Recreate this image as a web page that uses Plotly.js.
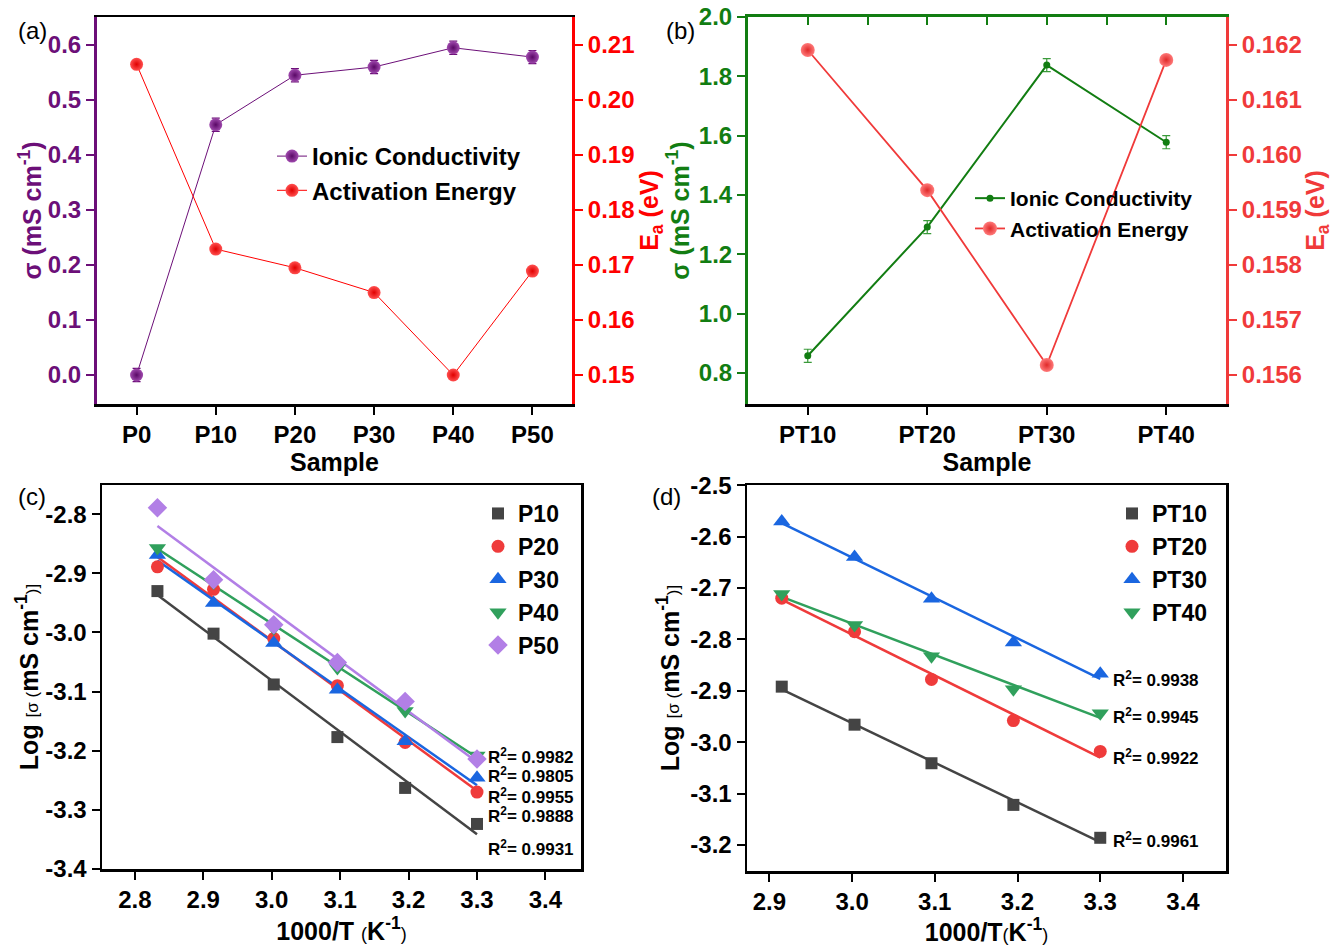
<!DOCTYPE html>
<html><head><meta charset="utf-8">
<script src="https://cdn.plot.ly/plotly-3.0.1.min.js"></script>
<style>html,body{margin:0;padding:0;background:#fff}#chart{width:1333px;height:946px}</style>
</head><body><div id="chart"></div>
<script>
// ---------- data: panel (a) ----------
const samplesA = ['P0','P10','P20','P30','P40','P50'];
const sigmaA = [0.000, 0.455, 0.545, 0.560, 0.595, 0.578];
const sigmaErrA = [0.012, 0.012, 0.012, 0.012, 0.012, 0.012];
const eaA = [0.2065, 0.1729, 0.1695, 0.1650, 0.1500, 0.1689];
const aLeftTicks = [0, 0.1, 0.2, 0.3, 0.4, 0.5, 0.6];
const aLeftText = ['0.0','0.1','0.2','0.3','0.4','0.5','0.6'];
const aRightTicks = [0.15, 0.16, 0.17, 0.18, 0.19, 0.20, 0.21];
const aRightText = ['0.15','0.16','0.17','0.18','0.19','0.20','0.21'];
// ---------- data: panel (b) ----------
const samplesB = ['PT10','PT20','PT30','PT40'];
const sigmaB = [0.858, 1.292, 1.838, 1.578];
const sigmaErrB = [0.022, 0.022, 0.022, 0.022];
const eaB = [0.16191, 0.15936, 0.15618, 0.16173];
const bLeftTicks = [0.8, 1.0, 1.2, 1.4, 1.6, 1.8, 2.0];
const bLeftText = ['0.8','1.0','1.2','1.4','1.6','1.8','2.0'];
const bRightTicks = [0.156, 0.157, 0.158, 0.159, 0.160, 0.161, 0.162];
const bRightText = ['0.156','0.157','0.158','0.159','0.160','0.161','0.162'];
// ---------- data: panel (c) ----------
const invTc = [2.833, 2.915, 3.003, 3.096, 3.195, 3.300];
const logP10 = [-2.930, -3.002, -3.088, -3.177, -3.263, -3.324];
const logP20 = [-2.889, -2.927, -3.010, -3.090, -3.186, -3.270];
const logP30 = [-2.869, -2.950, -3.018, -3.097, -3.184, -3.246];
const logP40 = [-2.857, -2.916, -2.993, -3.060, -3.133, -3.208];
const logP50 = [-2.789, -2.911, -2.987, -3.051, -3.117, -3.214];
const seriesC = ['P10','P20','P30','P40','P50'];
const r2C = ['0.9982','0.9805','0.9955','0.9888','0.9931'];
const cXTicks = [2.8, 2.9, 3.0, 3.1, 3.2, 3.3, 3.4];
const cXText = ['2.8','2.9','3.0','3.1','3.2','3.3','3.4'];
const cYTicks = [-2.8, -2.9, -3.0, -3.1, -3.2, -3.3, -3.4];
const cYText = ['-2.8','-2.9','-3.0','-3.1','-3.2','-3.3','-3.4'];
// ---------- data: panel (d) ----------
const invTd = [2.915, 3.003, 3.096, 3.195, 3.300];
const logPT10 = [-2.892, -2.966, -3.041, -3.122, -3.186];
const logPT20 = [-2.720, -2.785, -2.878, -2.958, -3.018];
const logPT30 = [-2.571, -2.640, -2.721, -2.806, -2.867];
const logPT40 = [-2.712, -2.772, -2.833, -2.897, -2.944];
const seriesD = ['PT10','PT20','PT30','PT40'];
const r2D = ['0.9938','0.9945','0.9922','0.9961'];
const dXTicks = [2.9, 3.0, 3.1, 3.2, 3.3, 3.4];
const dXText = ['2.9','3.0','3.1','3.2','3.3','3.4'];
const dYTicks = [-2.5, -2.6, -2.7, -2.8, -2.9, -3.0, -3.1, -3.2];
const dYText = ['-2.5','-2.6','-2.7','-2.8','-2.9','-3.0','-3.1','-3.2'];

// ---------- helpers ----------
const W = 1333, H = 946;
const px = v => v / W, py = v => 1 - v / H;
const FONT = 'Liberation Sans, Arial, Helvetica, sans-serif';
function fit(x, y) {
  const n = x.length;
  const mx = x.reduce((a, b) => a + b, 0) / n, my = y.reduce((a, b) => a + b, 0) / n;
  let sxy = 0, sxx = 0;
  for (let i = 0; i < n; i++) { sxy += (x[i] - mx) * (y[i] - my); sxx += (x[i] - mx) ** 2; }
  const s = sxy / sxx, b = my - s * mx;
  const x0 = Math.min(...x), x1 = Math.max(...x);
  return { x: [x0, x1], y: [b + s * x0, b + s * x1] };
}
function ax(o) {
  return Object.assign({
    showgrid: false, zeroline: false, showline: true, linewidth: 2.5, linecolor: '#000',
    ticks: 'outside', ticklen: 8, tickwidth: 2, tickcolor: '#000', fixedrange: true,
    tickfont: { family: FONT, size: 24, weight: 'bold', color: '#000' }
  }, o);
}
function ttl(text, color, standoff) {
  return { text: text, standoff: standoff, font: { family: FONT, size: 25, weight: 'bold', color: color } };
}

const PURPLE = '#6c0f78', RED_A = '#ff0000', GREEN = '#127d12', RED_B = '#f03a3a';
const cColors = ['#444444', '#ef3b3b', '#1a66e0', '#30a05c', '#b27fe6'];
const cSymbols = ['square', 'circle', 'triangle-up', 'triangle-down', 'diamond'];
const cSizes = [12, 13, 15, 15, 15];

const traces = [];
// (a)
traces.push({
  x: samplesA, y: sigmaA, xaxis: 'x', yaxis: 'y', type: 'scatter', mode: 'lines+markers',
  name: 'Ionic Conductivity', legend: 'legend',
  line: { color: PURPLE, width: 1 },
  marker: { size: 13, color: '#a04aae', gradient: { type: 'radial', color: '#5a0866' } },
  error_y: { type: 'data', array: sigmaErrA, color: PURPLE, thickness: 1.2, width: 4 }
});
traces.push({
  x: samplesA, y: eaA, xaxis: 'x', yaxis: 'y2', type: 'scatter', mode: 'lines+markers',
  name: 'Activation Energy', legend: 'legend',
  line: { color: RED_A, width: 1 },
  marker: { size: 13, color: '#ff5050', gradient: { type: 'radial', color: '#e00000' } }
});
// (b)
traces.push({
  x: samplesB, y: sigmaB, xaxis: 'x2', yaxis: 'y3', type: 'scatter', mode: 'lines+markers',
  name: 'Ionic Conductivity', legend: 'legend2',
  line: { color: GREEN, width: 2 },
  marker: { size: 7, color: GREEN },
  error_y: { type: 'data', array: sigmaErrB, color: '#3a9a3a', thickness: 1.2, width: 4 }
});
traces.push({
  x: samplesB, y: eaB, xaxis: 'x2', yaxis: 'y4', type: 'scatter', mode: 'lines+markers',
  name: 'Activation Energy', legend: 'legend2',
  line: { color: RED_B, width: 1.8 },
  marker: { size: 14, color: '#ff7a7a', gradient: { type: 'radial', color: '#e02a2a' } }
});
// dummy trace to anchor top axis of (b)
traces.push({ x: [0], y: [1], xaxis: 'x5', yaxis: 'y3', type: 'scatter', mode: 'lines', showlegend: false, hoverinfo: 'skip' });
// (c)
const cData = [logP10, logP20, logP30, logP40, logP50];
cData.forEach((y, i) => {
  const f = fit(invTc, y);
  traces.push({ x: f.x, y: f.y, xaxis: 'x3', yaxis: 'y5', type: 'scatter', mode: 'lines',
    line: { color: cColors[i], width: 2.5 }, showlegend: false, hoverinfo: 'skip' });
});
cData.forEach((y, i) => {
  traces.push({ x: invTc, y: y, xaxis: 'x3', yaxis: 'y5', type: 'scatter', mode: 'markers',
    name: seriesC[i], legend: 'legend3',
    marker: { symbol: cSymbols[i], size: cSizes[i], color: cColors[i] } });
});
// (d)
const dData = [logPT10, logPT20, logPT30, logPT40];
dData.forEach((y, i) => {
  const f = fit(invTd, y);
  traces.push({ x: f.x, y: f.y, xaxis: 'x4', yaxis: 'y6', type: 'scatter', mode: 'lines',
    line: { color: cColors[i], width: 2.5 }, showlegend: false, hoverinfo: 'skip' });
});
dData.forEach((y, i) => {
  traces.push({ x: invTd, y: y, xaxis: 'x4', yaxis: 'y6', type: 'scatter', mode: 'markers',
    name: seriesD[i], legend: 'legend4',
    marker: { symbol: cSymbols[i], size: cSizes[i], color: cColors[i] } });
});

const legFont = (s) => ({ family: FONT, size: s, weight: 'bold', color: '#000' });
const sigTitle = 'σ (mS cm<sup>-1</sup>)';
const eaTitle = 'E<sub>a</sub> (eV)';
const logTitle = 'Log <span style="font-size:17px;font-weight:normal">[σ (</span>mS cm<sup>-1</sup><span style="font-size:17px;font-weight:normal">)]</span>';

const annotations = [];
[['(a)', 16, 30], ['(b)', 664, 30], ['(c)', 16, 497], ['(d)', 650, 497]].forEach(a => {
  annotations.push({ text: a[0], xref: 'paper', yref: 'paper', x: px(a[1]), y: py(a[2]),
    xanchor: 'left', yanchor: 'middle', showarrow: false, font: { family: FONT, size: 24, color: '#000' } });
});
const r2CY = [756, 775, 796, 815, 848];
r2C.forEach((t, i) => annotations.push({ text: 'R<sup>2</sup>= ' + t, xref: 'paper', yref: 'paper',
  x: px(486), y: py(r2CY[i]), xanchor: 'left', yanchor: 'middle', showarrow: false,
  font: { family: FONT, size: 17, weight: 'bold', color: '#000' } }));
const r2DY = [679, 716, 757, 840];
r2D.forEach((t, i) => annotations.push({ text: 'R<sup>2</sup>= ' + t, xref: 'paper', yref: 'paper',
  x: px(1111), y: py(r2DY[i]), xanchor: 'left', yanchor: 'middle', showarrow: false,
  font: { family: FONT, size: 17, weight: 'bold', color: '#000' } }));

const layout = {
  width: W, height: H, margin: { l: 0, r: 0, t: 0, b: 0 },
  paper_bgcolor: '#fff', plot_bgcolor: 'rgba(0,0,0,0)',
  font: { family: FONT },
  // (a)
  xaxis: ax({ domain: [px(97), px(572)], anchor: 'y', type: 'category', range: [-0.5, 5.5], mirror: true,
    title: ttl('Sample', '#000', 4) }),
  yaxis: ax({ domain: [py(404), py(17)], anchor: 'x', range: [-0.0527, 0.6509], tickvals: aLeftTicks, ticktext: aLeftText,
    linecolor: PURPLE, linewidth: 3, tickcolor: PURPLE, tickfont: { family: FONT, size: 24, weight: 'bold', color: PURPLE },
    title: ttl(sigTitle, PURPLE, 0) }),
  yaxis2: ax({ overlaying: 'y', side: 'right', anchor: 'x', range: [0.14473, 0.2151], tickvals: aRightTicks, ticktext: aRightText,
    linecolor: RED_A, linewidth: 3, tickcolor: RED_A, tickfont: { family: FONT, size: 24, weight: 'bold', color: RED_A },
    title: ttl(eaTitle, RED_A, 6) }),
  // (b)
  xaxis2: ax({ domain: [px(748), px(1226)], anchor: 'y3', type: 'category', range: [-0.5, 3.5],
    title: ttl('Sample', '#000', 4) }),
  xaxis5: ax({ overlaying: 'x2', side: 'top', anchor: 'y3', range: [-0.5, 3.5], dtick: 0.5, tick0: 0,
    ticks: 'inside', ticklen: 8, showticklabels: false, linecolor: GREEN, tickcolor: GREEN, linewidth: 3 }),
  yaxis3: ax({ domain: [py(404), py(17)], anchor: 'x2', range: [0.6955, 2.0002], tickvals: bLeftTicks, ticktext: bLeftText,
    linecolor: GREEN, linewidth: 3, tickcolor: GREEN, tickfont: { family: FONT, size: 24, weight: 'bold', color: GREEN },
    title: ttl(sigTitle, GREEN, 3) }),
  yaxis4: ax({ overlaying: 'y3', side: 'right', anchor: 'x2', range: [0.15547, 0.16251], tickvals: bRightTicks, ticktext: bRightText,
    linecolor: RED_B, linewidth: 3, tickcolor: RED_B, tickfont: { family: FONT, size: 24, weight: 'bold', color: RED_B },
    title: ttl(eaTitle, RED_B, 0) }),
  // (c)
  xaxis3: ax({ domain: [px(102), px(581)], anchor: 'y5', range: [2.752, 3.452], tickvals: cXTicks, ticktext: cXText, mirror: true,
    title: ttl('1000/T <span style="font-size:18px;font-weight:normal">(</span>K<sup>-1</sup><span style="font-size:18px;font-weight:normal">)</span>', '#000', 8) }),
  yaxis5: ax({ domain: [py(869), py(485)], anchor: 'x3', range: [-3.4002, -2.7505], tickvals: cYTicks, ticktext: cYText, mirror: true,
    title: ttl(logTitle, '#000', 0) }),
  // (d)
  xaxis4: ax({ domain: [px(747), px(1226)], anchor: 'y6', range: [2.873, 3.452], tickvals: dXTicks, ticktext: dXText, mirror: true,
    title: ttl('1000/T<span style="font-size:18px;font-weight:normal">(</span>K<sup>-1</sup><span style="font-size:18px;font-weight:normal">)</span>', '#000', 8) }),
  yaxis6: ax({ domain: [py(871), py(485)], anchor: 'x4', range: [-3.2506, -2.4998], tickvals: dYTicks, ticktext: dYText, mirror: true,
    title: ttl(logTitle, '#000', 4) }),
  legend: { x: px(272), y: py(134), xanchor: 'left', yanchor: 'top', bgcolor: 'rgba(0,0,0,0)', font: legFont(24) },
  legend2: { x: px(970), y: py(178), xanchor: 'left', yanchor: 'top', bgcolor: 'rgba(0,0,0,0)', font: legFont(21) },
  legend3: { x: px(478), y: py(492), xanchor: 'left', yanchor: 'top', bgcolor: 'rgba(0,0,0,0)', font: legFont(23) },
  legend4: { x: px(1112), y: py(492), xanchor: 'left', yanchor: 'top', bgcolor: 'rgba(0,0,0,0)', font: legFont(23) },
  annotations: annotations,
  showlegend: true
};

Plotly.newPlot('chart', traces, layout, { displayModeBar: false, staticPlot: true });
</script>
</body></html>
